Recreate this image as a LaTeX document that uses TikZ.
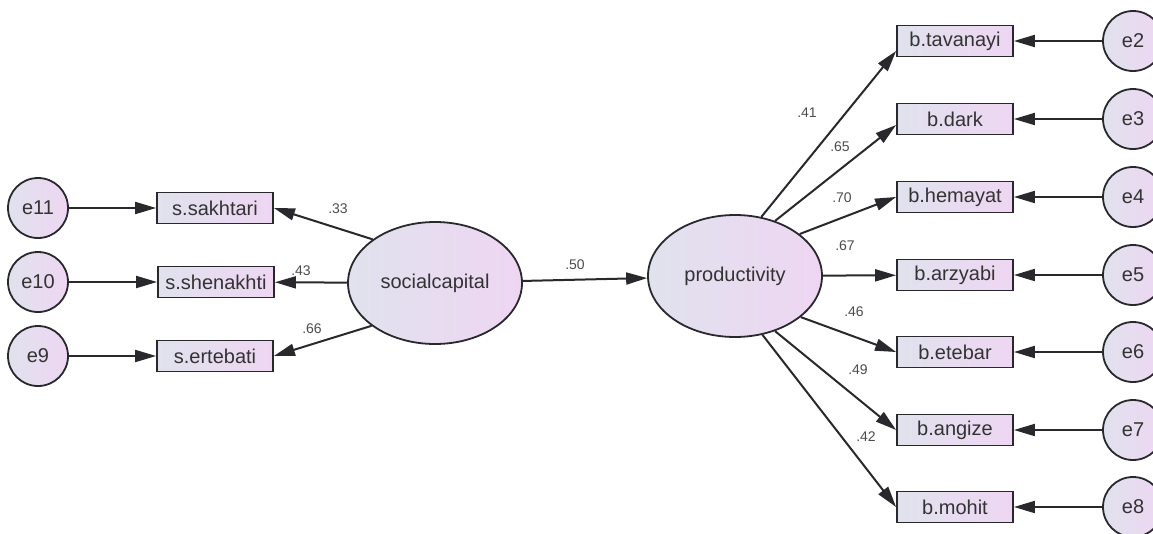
\documentclass[tikz,border=0pt]{standalone}
\usepackage{fontspec}
\setmainfont{Liberation Sans}
\usetikzlibrary{arrows.meta,shapes.geometric}
\definecolor{lineg}{RGB}{40,40,45}
\definecolor{fillL}{RGB}{224,226,238}
\definecolor{fillR}{RGB}{238,214,242}
\tikzset{
    latent/.style={ellipse, draw=lineg, line width=1.8pt, left color=fillL,
    	right color=fillR, minimum width=174pt, minimum height=122pt,
    	inner sep=0pt, text=black!80, font=\fontsize{20}{24}\selectfont},
    obs/.style={rectangle, draw=lineg, line width=1.8pt, left color=fillL,
    	right color=fillR, minimum width=116pt, minimum height=31pt,
    	inner sep=0pt, text=black!80, font=\fontsize{20}{24}\selectfont},
    err/.style={circle, draw=lineg, line width=1.8pt, left color=fillL,
    	right color=fillR, minimum size=60pt, inner sep=0pt,
    	text=black!80, font=\fontsize{20}{24}\selectfont},
    coef/.style={inner sep=0pt, text=black!70, font=\fontsize{14}{16}\selectfont}
}
\tikzset{
    every edge/.append style={line width=2pt, draw=lineg,
    	-{Triangle[length=21pt,width=12pt]}}
}

\begin{document}
\begin{tikzpicture}[x=1pt, y=-1pt]
  \useasboundingbox (0,0) rectangle (1153,533);
  % latent variables
  \node[latent] (sc) at (435,283) {socialcapital};
  \node[latent] (pr) at (735,276) {productivity};

  % social capital side
  \node[obs] (s1) at (215,208) {s.sakhtari};
  \node[obs] (s2) at (216,282) {s.shenakhti};
  \node[obs] (s3) at (215,356) {s.ertebati};
  \node[err] (e11) at (38,208) {e11};
  \node[err] (e10) at (38,282) {e10};
  \node[err] (e9) at (38,356) {e9};

  % productivity side
  \node[obs] (b1) at (955,41) {b.tavanayi};
  \node[obs] (b2) at (955,119) {b.dark};
  \node[obs] (b3) at (955,197) {b.hemayat};
  \node[obs] (b4) at (955,275) {b.arzyabi};
  \node[obs] (b5) at (955,352) {b.etebar};
  \node[obs] (b6) at (955,430) {b.angize};
  \node[obs] (b7) at (955,507) {b.mohit};
  \node[err] (e2) at (1133,41) {e2};
  \node[err] (e3) at (1133,119) {e3};
  \node[err] (e4) at (1133,197) {e4};
  \node[err] (e5) at (1133,275) {e5};
  \node[err] (e6) at (1133,352) {e6};
  \node[err] (e7) at (1133,430) {e7};
  \node[err] (e8) at (1133,507) {e8};

  \draw (e11) edge (s1); \draw (e10) edge (s2); \draw (e9) edge (s3);
  \draw (sc.145) edge (s1.east); \draw (sc) edge (s2);
  \draw (sc.214) edge (s3.east); \draw (sc) edge (pr);
  \draw (pr.66) edge ([yshift=-10pt]b1.west); \draw (pr.54) edge ([yshift=-6pt]b2.west);
  \draw (pr.33) edge (b3.west); \draw (pr) edge (b4);
  \draw (pr.-32) edge (b5.west); \draw (pr.-54) edge (b6.west);
  \draw (pr.-65) edge (b7.west);
  \draw (e2) edge (b1); \draw (e3) edge (b2); \draw (e4) edge (b3);
  \draw (e5) edge (b4); \draw (e6) edge (b5); \draw (e7) edge (b6);
  \draw (e8) edge (b7);

  % path coefficients
  \node[coef] (c33) at (338,209) {.33};
  \node[coef] (c43) at (301,271) {.43};
  \node[coef] (c66) at (312,329) {.66};
  \node[coef] (c50) at (575,265) {.50};
  \node[coef] (c41) at (807,113) {.41};
  \node[coef] (c65) at (840,147) {.65};
  \node[coef] (c70) at (842,198) {.70};
  \node[coef] (c67) at (845,246) {.67};
  \node[coef] (c46) at (854,312) {.46};
  \node[coef] (c49) at (858,370) {.49};
  \node[coef] (c42) at (866,437) {.42};
\end{tikzpicture}
\end{document}
